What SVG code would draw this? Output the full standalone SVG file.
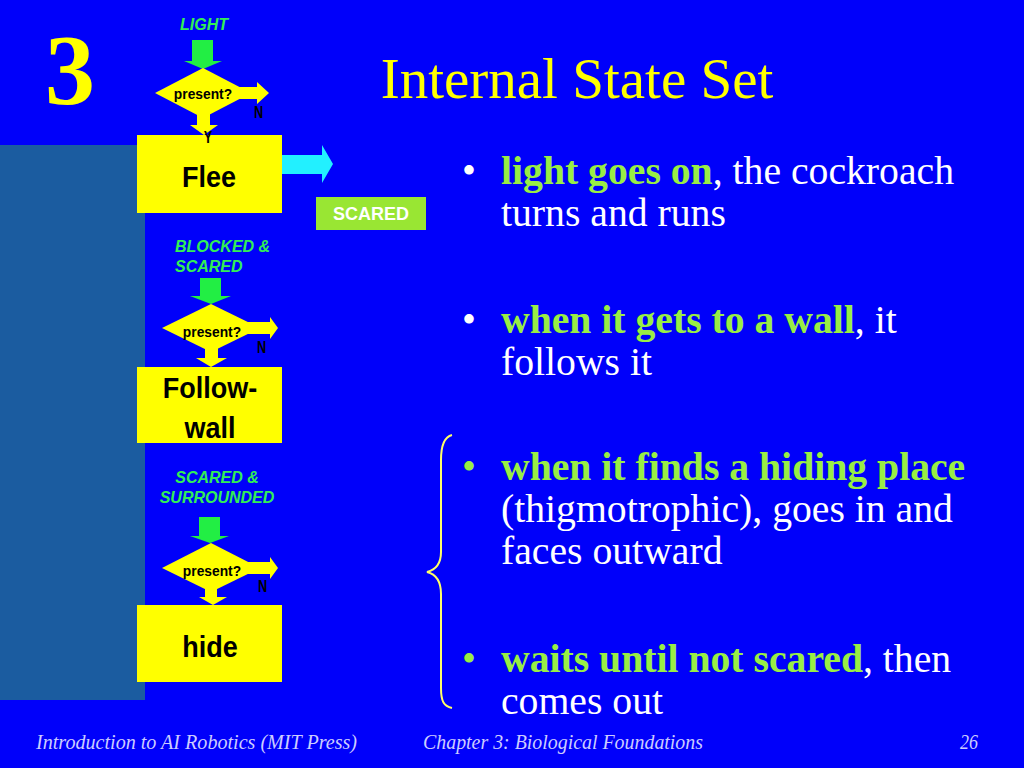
<svg xmlns="http://www.w3.org/2000/svg" width="1024" height="768" viewBox="0 0 1024 768">
<style>
.sans{font-family:"Liberation Sans",Arial,sans-serif;font-weight:bold}
.serif{font-family:"Liberation Serif","Times New Roman",serif}
.lbl{font-family:"Liberation Sans",Arial,sans-serif;font-weight:bold;font-style:italic;font-size:16px;fill:#33EE55}
.box{fill:#FFFF00}
.dia{fill:#FFFF00}
.q{font-family:"Liberation Sans",Arial,sans-serif;font-weight:bold;font-size:15px;fill:#000}
.n{font-family:"Liberation Sans",Arial,sans-serif;font-weight:bold;font-size:17px;fill:#000}
.big{font-family:"Liberation Sans",Arial,sans-serif;font-weight:bold;font-size:30px;fill:#000;text-anchor:middle}
.garr{fill:#22EE44}
.yarr{fill:#FFFF00}
.bul{font-family:"Liberation Serif","Times New Roman",serif;font-size:39.7px;fill:#FFFFFF}
.hl{fill:#99EE44;font-weight:bold}
.foot{font-family:"Liberation Serif","Times New Roman",serif;font-style:italic;font-size:22px;fill:#CCCCFF}
</style>
<rect x="0" y="0" width="1024" height="768" fill="#0000FA"/>
<rect x="0" y="145" width="145" height="555" fill="#1B5CA0"/>
<text x="70" y="103" class="serif" font-size="100" font-weight="bold" fill="#FFFF00" text-anchor="middle">3</text>
<text x="577" y="98" class="serif" font-size="57" fill="#FFFF00" text-anchor="middle">Internal State Set</text>

<g id="connectors">
<polygon class="garr" points="192,40 213,40 213,61 222,61 203,69 184,61 192,61"/>
<polygon class="garr" points="200,278 221,278 221,296 231,296 211,304 190,296 200,296"/>
<polygon class="garr" points="199,517 220,517 220,536 229,536 210,543 190,536 199,536"/>
<polygon class="yarr" points="236,87 257,87 257,82 269,93 257,104 257,99 236,99"/>
<polygon class="yarr" points="244,322 270,322 270,317 278,328 270,339 270,334 244,334"/>
<polygon class="yarr" points="244,562 270,562 270,557 278,568 270,579 270,574 244,574"/>
<polygon class="yarr" points="197,110 210,110 210,125 218,125 204,135 190,125 197,125"/>
<polygon class="yarr" points="205,345 218,345 218,358 227,358 211,367 196,358 205,358"/>
<polygon class="yarr" points="205,585 217,585 217,597 227,597 213,605 199,597 205,597"/>
<polygon fill="#22F0FF" points="282,155 322,155 322,145 333,164 322,183 322,174 282,174"/>
</g>

<g id="light-decision">
<text x="204" y="30" class="lbl" text-anchor="middle">LIGHT</text>
<polygon class="dia" points="203,68 251,93 203,118 155,93"/>
<text transform="translate(203,99) scale(0.92,1)" class="q" text-anchor="middle">present?</text>
<text transform="translate(254,118) scale(0.75,1)" class="n">N</text>
</g>
<g id="flee">
<rect class="box" x="137" y="135" width="145" height="78"/>
<text transform="translate(209,187) scale(0.9,1)" class="big">Flee</text>
<text transform="translate(208,143) scale(0.75,1)" class="n" text-anchor="middle">Y</text>
</g>
<g id="scared">
<rect x="316" y="197" width="110" height="33" fill="#99E633"/>
<text x="371" y="220" class="sans" font-size="18" fill="#FFFFFF" text-anchor="middle">SCARED</text>
</g>

<g id="blocked-decision">
<text x="175" y="252" class="lbl">BLOCKED &amp;</text>
<text x="175" y="272" class="lbl">SCARED</text>
<polygon class="dia" points="211,304 260,328 211,352 162,328"/>
<text transform="translate(212,337) scale(0.92,1)" class="q" text-anchor="middle">present?</text>
<text transform="translate(257,353) scale(0.75,1)" class="n">N</text>
</g>
<g id="follow-wall">
<rect class="box" x="137" y="367" width="145" height="76"/>
<text transform="translate(210,398) scale(0.9,1)" class="big">Follow-</text>
<text transform="translate(210,438) scale(0.9,1)" class="big">wall</text>
</g>

<g id="surrounded-decision">
<text x="217" y="483" class="lbl" text-anchor="middle">SCARED &amp;</text>
<text x="217" y="503" class="lbl" text-anchor="middle">SURROUNDED</text>
<polygon class="dia" points="211,543 260,568 211,592 162,568"/>
<text transform="translate(212,576) scale(0.92,1)" class="q" text-anchor="middle">present?</text>
<text transform="translate(258,592) scale(0.75,1)" class="n">N</text>
</g>
<g id="hide">
<rect class="box" x="137" y="605" width="145" height="77"/>
<text transform="translate(210,657) scale(0.9,1)" class="big">hide</text>
</g>

<g id="bullets">
<text x="462" y="184" class="bul">•</text>
<text x="501" y="184" class="bul"><tspan class="hl">light goes on</tspan>, the cockroach</text>
<text x="501" y="226" class="bul">turns and runs</text>
<text x="462" y="333" class="bul">•</text>
<text x="501" y="333" class="bul"><tspan class="hl">when it gets to a wall</tspan>, it</text>
<text x="501" y="375" class="bul">follows it</text>
<text x="462" y="480" class="bul" style="fill:#99EE44">•</text>
<text x="501" y="480" class="bul"><tspan class="hl">when it finds a hiding place</tspan></text>
<text x="501" y="522" class="bul">(thigmotrophic), goes in and</text>
<text x="501" y="564" class="bul">faces outward</text>
<text x="462" y="672" class="bul" style="fill:#99EE44">•</text>
<text x="501" y="672" class="bul"><tspan class="hl">waits until not scared</tspan>, then</text>
<text x="501" y="714" class="bul">comes out</text>
</g>
<path id="brace" d="M452,435 C444,437 441,445 441,460 L441,552 C441,565 435,570 427,572 C435,574 441,580 441,594 L441,688 C441,702 444,706 452,708" fill="none" stroke="#FFFF66" stroke-width="2"/>

<g id="footer">
<text x="36" y="749" class="foot" textLength="321" lengthAdjust="spacingAndGlyphs">Introduction to AI Robotics (MIT Press)</text>
<text x="423" y="749" class="foot" textLength="280" lengthAdjust="spacingAndGlyphs">Chapter 3: Biological Foundations</text>
<text x="960" y="749" class="foot" textLength="18" lengthAdjust="spacingAndGlyphs">26</text>
</g>
</svg>
